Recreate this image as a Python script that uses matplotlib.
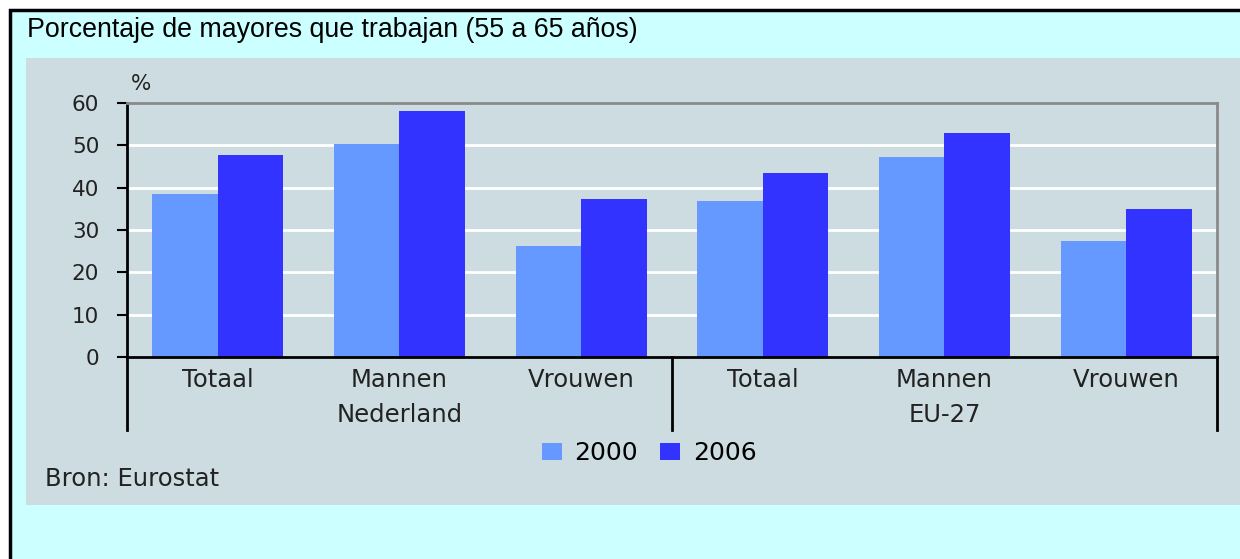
import matplotlib
matplotlib.use("Agg")
import matplotlib.pyplot as plt
import matplotlib.transforms as mtransforms
from matplotlib.patches import Rectangle, Patch
import numpy as np

W, H = 1240, 559

categories = ["Totaal", "Mannen", "Vrouwen", "Totaal", "Mannen", "Vrouwen"]
groups = ["Nederland", "EU-27"]
vals_2000 = [38.4, 50.2, 26.2, 36.8, 47.2, 27.4]
vals_2006 = [47.6, 58.1, 37.3, 43.4, 52.8, 35.0]
years = ["2000", "2006"]
yticks = [0, 10, 20, 30, 40, 50, 60]

C_LIGHT = "#6699ff"
C_DARK = "#3333ff"
C_CYAN = "#ccffff"
C_PANEL = "#cddce0"
C_TEXT = "#222222"


def fx(px):
    return px / W


def fy(py):
    # pixel y measured from top -> figure fraction
    return 1 - py / H


fig = plt.figure(figsize=(W / 100, H / 100), dpi=100, facecolor="white")

# fond cyan avec bord noir, puis panneau gris (sous les axes)
fig.patches.append(Rectangle((fx(10), -0.05), 1.1, fy(10) + 0.05, transform=fig.transFigure,
                             facecolor=C_CYAN, edgecolor="black", lw=2.5, zorder=-10))
fig.patches.append(Rectangle((fx(26), fy(505)), 1.1, fy(58) - fy(505), transform=fig.transFigure,
                             facecolor=C_PANEL, edgecolor="none", zorder=-9))

fig.text(fx(27), fy(30), "Porcentaje de mayores que trabajan (55 a 65 años)",
         family="Liberation Sans", fontsize=19.3, color="black", va="center", ha="left")

ax = fig.add_axes([fx(127), fy(357), fx(1217) - fx(127), fy(103) - fy(357)])
ax.set_facecolor(C_PANEL)

x = np.arange(len(categories))
bw = 0.36
ax.bar(x - bw / 2, vals_2000, bw, color=C_LIGHT, zorder=3, label=years[0])
ax.bar(x + bw / 2, vals_2006, bw, color=C_DARK, zorder=3, label=years[1])

ax.set_xlim(-0.5, len(categories) - 0.5)
ax.set_ylim(0, 60)
ax.set_yticks(yticks)
ax.set_yticklabels([str(t) for t in yticks], family="DejaVu Sans", fontsize=15.5, color=C_TEXT)
ax.tick_params(axis="y", length=7, width=1.5, pad=13, color="black")
ax.set_xticks([])

for t in yticks[1:-1]:
    ax.axhline(t, color="white", lw=2, zorder=1)

ax.spines["left"].set_color("black")
ax.spines["left"].set_linewidth(2)
ax.spines["bottom"].set_color("black")
ax.spines["bottom"].set_linewidth(2)
ax.spines["bottom"].set_zorder(4)
for s in ("top", "right"):
    ax.spines[s].set_color("#8a8a8a")
    ax.spines[s].set_linewidth(2)

trans = mtransforms.blended_transform_factory(ax.transData, ax.transAxes)
ax_h = 357 - 103
for i, c in enumerate(categories):
    ax.text(i, -(380 - 357) / ax_h, c, transform=trans, ha="center", va="center",
            family="DejaVu Sans", fontsize=17.5, color=C_TEXT)
for g, name in enumerate(groups):
    ax.text(g * 3 + 1, -(415 - 357) / ax_h, name, transform=trans, ha="center", va="center",
            family="DejaVu Sans", fontsize=17.5, color=C_TEXT)
for xs in (-0.5, 2.5, 5.5):
    ax.plot([xs, xs], [0, -(430 - 357) / ax_h], transform=trans, color="black",
            lw=2, clip_on=False, zorder=5)

fig.text(fx(141), fy(84), "%", family="DejaVu Sans", fontsize=15.5, color=C_TEXT,
         ha="center", va="center")

handles = [Patch(facecolor=C_LIGHT), Patch(facecolor=C_DARK)]
fig.legend(handles, years, loc="center", bbox_to_anchor=(fx(649), fy(453)), ncol=2,
           frameon=False, handlelength=0.8, handleheight=0.7, handletextpad=0.5,
           columnspacing=0.9, prop={"family": "DejaVu Sans", "size": 18})

fig.text(fx(45), fy(479), "Bron: Eurostat", family="DejaVu Sans", fontsize=17.5,
         color=C_TEXT, ha="left", va="center")

fig.savefig("out.png", dpi=100, facecolor="white")
